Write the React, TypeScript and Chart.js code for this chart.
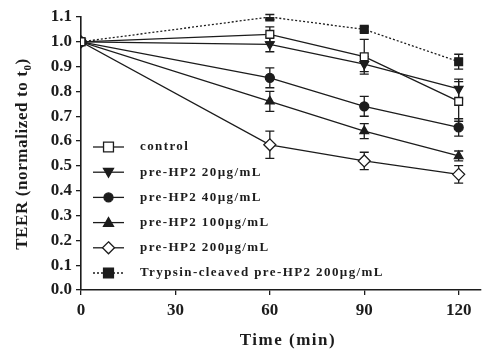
import React, { useEffect, useRef } from "react";
import { Chart, registerables } from "chart.js";

Chart.register(...registerables);

const times = [0, 60, 90, 120];
const xTicks = [0, 30, 60, 90, 120];
const yTicks = [0, 0.1, 0.2, 0.3, 0.4, 0.5, 0.6, 0.7, 0.8, 0.9, 1.0, 1.1];

const seriesLabels = [
  "control",
  "pre-HP2 20µg/mL",
  "pre-HP2 40µg/mL",
  "pre-HP2 100µg/mL",
  "pre-HP2 200µg/mL",
  "Trypsin-cleaved pre-HP2 200µg/mL",
];

const controlVals = [1.0, 1.03, 0.94, 0.76];
const hp20Vals = [1.0, 0.99, 0.91, 0.81];
const hp40Vals = [1.0, 0.855, 0.74, 0.655];
const hp100Vals = [1.0, 0.76, 0.64, 0.54];
const hp200Vals = [1.0, 0.585, 0.52, 0.466];
const trypsinVals = [1.0, 1.1, 1.05, 0.92];

const controlErr = [0, 0.03, 0.07, 0.08];
const hp20Err = [0, 0.03, 0.03, 0.04];
const hp40Err = [0, 0.04, 0.04, 0.035];
const hp100Err = [0, 0.04, 0.03, 0.02];
const hp200Err = [0, 0.055, 0.035, 0.035];
const trypsinErr = [0, 0.01, 0.01, 0.03];

const INK = "#1c1c1c";
const FONT = "'Liberation Serif', 'Times New Roman', serif";

type Style = { point: string; rot: number; fill: string; radius: number; dash: number[] };
const styles: Style[] = [
  { point: "rect", rot: 0, fill: "#ffffff", radius: 5.5, dash: [] },
  { point: "triangle", rot: 180, fill: INK, radius: 5, dash: [] },
  { point: "circle", rot: 0, fill: INK, radius: 4.5, dash: [] },
  { point: "triangle", rot: 0, fill: INK, radius: 5, dash: [] },
  { point: "rectRot", rot: 0, fill: "#ffffff", radius: 6, dash: [] },
  { point: "rect", rot: 0, fill: INK, radius: 5.5, dash: [2, 2] },
];

const allVals = [controlVals, hp20Vals, hp40Vals, hp100Vals, hp200Vals, trypsinVals];
const allErr = [controlErr, hp20Err, hp40Err, hp100Err, hp200Err, trypsinErr];

function drawMarker(ctx: CanvasRenderingContext2D, s: Style, x: number, y: number) {
  ctx.save();
  ctx.fillStyle = s.fill;
  ctx.strokeStyle = INK;
  ctx.lineWidth = 1.3;
  ctx.setLineDash([]);
  ctx.beginPath();
  const r = s.radius;
  if (s.point === "rect") {
    const h = r * 0.9;
    ctx.rect(x - h, y - h, 2 * h, 2 * h);
  } else if (s.point === "rectRot") {
    ctx.moveTo(x, y - r);
    ctx.lineTo(x + r, y);
    ctx.lineTo(x, y + r);
    ctx.lineTo(x - r, y);
    ctx.closePath();
  } else if (s.point === "circle") {
    ctx.arc(x, y, r, 0, Math.PI * 2);
  } else if (s.point === "triangle") {
    const d = s.rot === 180 ? -1 : 1;
    ctx.moveTo(x, y - d * r);
    ctx.lineTo(x + r, y + d * r * 0.75);
    ctx.lineTo(x - r, y + d * r * 0.75);
    ctx.closePath();
  }
  ctx.fill();
  ctx.stroke();
  ctx.restore();
}

const errorBarPlugin = {
  id: "errorBars",
  beforeDatasetsDraw(chart: any) {
    const ctx = chart.ctx as CanvasRenderingContext2D;
    const xs = chart.scales.x;
    const ys = chart.scales.y;
    ctx.save();
    ctx.strokeStyle = INK;
    ctx.lineWidth = 1.3;
    allVals.forEach((vals, di) => {
      vals.forEach((v, i) => {
        const e = allErr[di][i];
        if (!e) return;
        const x = xs.getPixelForValue(times[i]);
        const y1 = ys.getPixelForValue(v + e);
        const y2 = ys.getPixelForValue(v - e);
        ctx.beginPath();
        ctx.moveTo(x, y1);
        ctx.lineTo(x, y2);
        ctx.moveTo(x - 4.5, y1);
        ctx.lineTo(x + 4.5, y1);
        ctx.moveTo(x - 4.5, y2);
        ctx.lineTo(x + 4.5, y2);
        ctx.stroke();
      });
    });
    ctx.restore();
  },
};

const decorPlugin = {
  id: "decor",
  afterDraw(chart: any) {
    const ctx = chart.ctx as CanvasRenderingContext2D;
    const area = chart.chartArea;
    ctx.save();
    // legend
    const lx0 = area.left + 12;
    const lx1 = area.left + 43;
    const tx = area.left + 59;
    const row0 = area.top + 130;
    const rowGap = 25.2;
    seriesLabels.forEach((label, i) => {
      const s = styles[i];
      const y = row0 + i * rowGap;
      ctx.strokeStyle = INK;
      ctx.lineWidth = 1.3;
      ctx.setLineDash(s.dash);
      ctx.beginPath();
      ctx.moveTo(lx0, y);
      ctx.lineTo(lx1, y);
      ctx.stroke();
      ctx.setLineDash([]);
      drawMarker(ctx, s, (lx0 + lx1) / 2, y);
      ctx.fillStyle = INK;
      ctx.font = `bold 13px ${FONT}`;
      (ctx as any).letterSpacing = "1.4px";
      ctx.textBaseline = "middle";
      ctx.textAlign = "left";
      ctx.fillText(label, tx, y);
      (ctx as any).letterSpacing = "0px";
    });

    // x title
    ctx.font = `bold 17px ${FONT}`;
    (ctx as any).letterSpacing = "1.5px";
    ctx.textAlign = "center";
    ctx.textBaseline = "middle";
    ctx.fillText("Time (min)", 288, 341);

    // y title with subscript
    ctx.save();
    ctx.translate(23, 154);
    ctx.rotate(-Math.PI / 2);
    (ctx as any).letterSpacing = "0.6px";
    const main = "TEER (normalized to t";
    const sub = "0";
    const close = ")";
    ctx.font = `bold 17px ${FONT}`;
    const wMain = ctx.measureText(main).width;
    const wClose = ctx.measureText(close).width;
    ctx.font = `bold 11px ${FONT}`;
    const wSub = ctx.measureText(sub).width;
    const total = wMain + wSub + wClose;
    let cx = -total / 2;
    ctx.textAlign = "left";
    ctx.textBaseline = "middle";
    ctx.font = `bold 17px ${FONT}`;
    ctx.fillText(main, cx, 0);
    cx += wMain;
    ctx.font = `bold 11px ${FONT}`;
    ctx.fillText(sub, cx, 5);
    cx += wSub;
    ctx.font = `bold 17px ${FONT}`;
    ctx.fillText(close, cx, 0);
    ctx.restore();
    (ctx as any).letterSpacing = "0px";
    ctx.restore();
  },
};

export default function App() {
  const ref = useRef<HTMLCanvasElement | null>(null);
  useEffect(() => {
    document.body.style.margin = "0";
    const canvas = ref.current;
    if (!canvas) return;
    const datasets = allVals.map((vals, i) => ({
      label: seriesLabels[i],
      data: vals.map((v, j) => ({ x: times[j], y: v })),
      borderColor: INK,
      borderWidth: 1.3,
      borderDash: styles[i].dash,
      pointStyle: styles[i].point,
      rotation: styles[i].rot,
      pointRadius: styles[i].radius,
      pointBackgroundColor: styles[i].fill,
      pointBorderColor: INK,
      pointBorderWidth: 1.3,
      showLine: true,
      fill: false,
      tension: 0,
    }));
    const chart = new Chart(canvas, {
      type: "scatter",
      data: { datasets },
      options: {
        animation: false,
        responsive: false,
        devicePixelRatio: 1,
        layout: { padding: { top: 17, right: 0, left: 0, bottom: 0 } },
        plugins: { legend: { display: false }, tooltip: { enabled: false } },
        scales: {
          x: {
            type: "linear",
            min: 0,
            max: 127,
            afterBuildTicks: (s: any) => {
              s.ticks = xTicks.map((v) => ({ value: v }));
            },
            afterFit: (s: any) => {
              s.height = 66;
            },
            grid: {
              drawOnChartArea: false,
              drawTicks: true,
              tickLength: 5,
              color: INK,
              lineWidth: 1.3,
            },
            border: { color: INK, width: 1.6 },
            ticks: {
              color: INK,
              padding: 5,
              maxRotation: 0,
              font: { family: FONT, size: 17, weight: "bold" },
            },
          },
          y: {
            type: "linear",
            min: 0,
            max: 1.1,
            afterBuildTicks: (s: any) => {
              s.ticks = yTicks.map((v) => ({ value: v }));
            },
            afterFit: (s: any) => {
              s.width = 81;
            },
            grid: {
              drawOnChartArea: false,
              drawTicks: true,
              tickLength: 5,
              color: INK,
              lineWidth: 1.3,
            },
            border: { color: INK, width: 1.6 },
            ticks: {
              color: INK,
              padding: 4,
              callback: (v: any) => Number(v).toFixed(1),
              font: { family: FONT, size: 17, weight: "bold" },
            },
          },
        },
      },
      plugins: [errorBarPlugin, decorPlugin],
    } as any);
    return () => chart.destroy();
  }, []);
  return <canvas ref={ref} width={488} height={356} style={{ display: "block" }} />;
}
